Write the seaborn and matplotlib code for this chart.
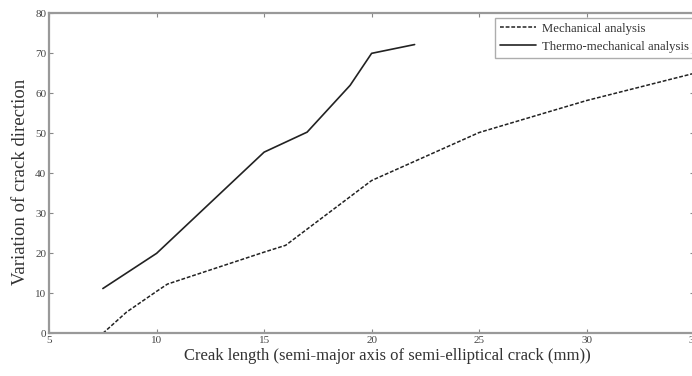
import matplotlib
matplotlib.use("Agg")
import matplotlib.pyplot as plt
import seaborn as sns
import pandas as pd

mech_x = [7.5, 8.6, 10, 10.5, 15, 16, 20, 25, 30, 35]
mech_y = [0, 5.3, 10.5, 12.3, 20.3, 22, 38.2, 50.2, 58.2, 65]
thermo_x = [7.5, 10, 15, 17, 19, 20, 22]
thermo_y = [11.2, 20, 45.3, 50.3, 62, 70, 72.2]
x_ticks = [5, 10, 15, 20, 25, 30, 35]
y_ticks = [0, 10, 20, 30, 40, 50, 60, 70, 80]

sns.set_style("white")
plt.rcParams['font.family'] = ['Liberation Serif', 'DejaVu Serif']

fig = plt.figure(figsize=(6.92, 3.76), dpi=100)
ax = fig.add_axes([0.071, 0.1135, 0.932, 0.851])

df_m = pd.DataFrame({"x": mech_x, "y": mech_y})
df_t = pd.DataFrame({"x": thermo_x, "y": thermo_y})
sns.lineplot(data=df_m, x="x", y="y", ax=ax, color="#222222", lw=1.1,
             linestyle=(0, (2.5, 1.2)), label="Mechanical analysis")
sns.lineplot(data=df_t, x="x", y="y", ax=ax, color="#222222", lw=1.2,
             label="Thermo-mechanical analysis")

ax.set_xlim(5, 35)
ax.set_ylim(0, 80)
ax.set_xticks(x_ticks)
ax.set_yticks(y_ticks)
ax.tick_params(direction="in", length=3, width=0.8, color="#888888",
               labelsize=8, labelcolor="#444444", top=True, right=True,
               bottom=True, left=True, pad=2)
for s in ax.spines.values():
    s.set_color("#999999")
    s.set_linewidth(1.6)
ax.set_xlabel("Creak length (semi-major axis of semi-elliptical crack (mm))",
              fontsize=12, color="#333333")
ax.set_ylabel("Variation of crack direction", fontsize=13.5, color="#333333")
ax.xaxis.set_label_coords(0.524, -0.045, transform=ax.transAxes)
ax.xaxis.label.set_verticalalignment("top")
ax.yaxis.set_label_coords(-0.031, 0.473, transform=ax.transAxes)
leg = ax.legend(loc="upper right", fontsize=9.2, frameon=True, fancybox=False,
                edgecolor="#999999", handlelength=2.8, borderpad=0.4,
                labelspacing=0.45, handletextpad=0.5, borderaxespad=0,
                bbox_to_anchor=(1.0, 0.986))
leg.get_frame().set_linewidth(1.0)
for t in leg.get_texts():
    t.set_color("#333333")

fig.savefig("out.png", dpi=100)
